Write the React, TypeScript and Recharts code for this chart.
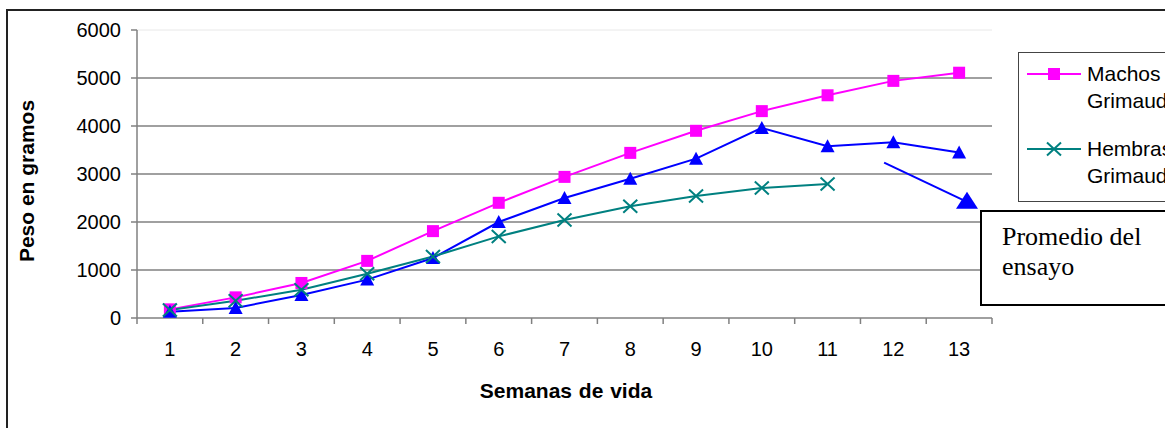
import { LineChart, Line, XAxis, YAxis, ReferenceLine, ReferenceDot } from 'recharts'

// Peso vivo por semana (g)
const WEEKS = [1, 2, 3, 4, 5, 6, 7, 8, 9, 10, 11, 12, 13]
const MACHOS = [180, 430, 730, 1190, 1810, 2400, 2940, 3440, 3900, 4310, 4640, 4940, 5110]
const PROMEDIO = [130, 210, 480, 800, 1250, 2000, 2500, 2900, 3320, 3960, 3580, 3660, 3450]
const HEMBRAS: (number | null)[] = [165, 360, 590, 920, 1280, 1700, 2040, 2330, 2540, 2710, 2790, null, null]

const Y_TICKS = [0, 1000, 2000, 3000, 4000, 5000, 6000]
const GRID_DARK = [1000, 2000, 3000, 4000, 5000]
// ticks del eje X: enteros = etiqueta, medios = marca entre semanas
const X_TICKS = [0.5, ...WEEKS.flatMap((w) => [w, w + 0.5])]

// flecha "Promedio del ensayo" (en coordenadas de datos)
const ARROW = [
  { x: 11.86, y: 3235 },
  { x: 13.12, y: 2420 },
]

const PINK = '#ff00ff'
const BLUE = '#0000ff'
const TEAL = '#008080'
const GRAY = '#808080'
const FONT = '"Liberation Sans", Arial, sans-serif'

const data = WEEKS.map((week, i) => ({
  week,
  machos: MACHOS[i],
  promedio: PROMEDIO[i],
  hembras: HEMBRAS[i],
}))

const Square = (p: any) =>
  p.cy == null ? <g key={p.index} /> : (
    <rect key={p.index} x={p.cx - 6} y={p.cy - 6} width={12} height={12} fill={PINK} />
  )

const Tri = (p: any) =>
  p.cy == null ? <g key={p.index} /> : (
    <polygon
      key={p.index}
      points={`${p.cx},${p.cy - 7} ${p.cx - 7},${p.cy + 6} ${p.cx + 7},${p.cy + 6}`}
      fill={BLUE}
    />
  )

const Cross = (p: any) =>
  p.cy == null ? <g key={p.index} /> : (
    <path
      key={p.index}
      d={`M${p.cx - 7},${p.cy - 6.5}L${p.cx + 7},${p.cy + 6.5}M${p.cx - 7},${p.cy + 6.5}L${p.cx + 7},${p.cy - 6.5}`}
      stroke={TEAL}
      strokeWidth={2}
    />
  )

const XTick = (p: any) => {
  const v = p.payload.value
  if (v % 1 !== 0) {
    return <line x1={p.x} x2={p.x} y1={p.y} y2={p.y + 6} stroke={GRAY} strokeWidth={1.5} />
  }
  return (
    <text x={p.x} y={p.y + 38} textAnchor="middle" fontSize={20} fontFamily={FONT} fill="#000">
      {v}
    </text>
  )
}

const BigTri = (p: any) => (
  <polygon
    points={`${p.cx},${p.cy - 10} ${p.cx - 11},${p.cy + 7} ${p.cx + 11},${p.cy + 7}`}
    fill={BLUE}
  />
)

export default function App() {
  return (
    <div style={{ position: 'fixed', inset: 0, overflow: 'hidden', background: '#fff', fontFamily: FONT }}>
      <div
        style={{
          position: 'absolute',
          left: 6,
          top: 9,
          width: 1300,
          height: 600,
          border: '2px solid #222',
        }}
      />
      <div style={{ position: 'absolute', left: 0, top: 0 }}>
        <LineChart width={1165} height={428} data={data} margin={{ top: 30, right: 173, left: 0, bottom: 0 }}>
          {GRID_DARK.map((v) => (
            <ReferenceLine key={v} y={v} stroke={GRAY} strokeWidth={1.5} ifOverflow="extendDomain" />
          ))}
          <ReferenceLine y={6000} stroke="#e8e8e8" strokeWidth={1} />
          <XAxis
            dataKey="week"
            type="number"
            domain={[0.5, 13.5]}
            ticks={X_TICKS}
            interval={0}
            height={110}
            tickSize={0}
            tickMargin={0}
            tickLine={false}
            axisLine={{ stroke: GRAY, strokeWidth: 1.5 }}
            tick={<XTick />}
          />
          <YAxis
            domain={[0, 6000]}
            ticks={Y_TICKS}
            interval={0}
            width={137}
            tickSize={6}
            tickMargin={10}
            tickLine={{ stroke: GRAY, strokeWidth: 1.5 }}
            axisLine={{ stroke: GRAY, strokeWidth: 1.5 }}
            tick={{ fontSize: 20, fill: '#000', fontFamily: FONT }}
          />
          <Line
            dataKey="machos"
            name="Machos Grimaud"
            stroke={PINK}
            strokeWidth={2}
            dot={Square}
            activeDot={false}
            isAnimationActive={false}
          />
          <Line
            dataKey="promedio"
            name="Promedio del ensayo"
            stroke={BLUE}
            strokeWidth={2}
            dot={Tri}
            activeDot={false}
            isAnimationActive={false}
          />
          <Line
            dataKey="hembras"
            name="Hembras Grimaud"
            stroke={TEAL}
            strokeWidth={2}
            dot={Cross}
            activeDot={false}
            connectNulls={false}
            isAnimationActive={false}
          />
          <ReferenceLine
            segment={ARROW}
            stroke={BLUE}
            strokeWidth={2}
            ifOverflow="visible"
          />
          <ReferenceDot x={ARROW[1].x} y={ARROW[1].y} ifOverflow="visible" shape={BigTri} />
        </LineChart>
      </div>

      {/* títulos de ejes */}
      <div
        style={{
          position: 'absolute',
          left: 27,
          top: 181,
          transform: 'translate(-50%, -50%) rotate(-90deg)',
          fontSize: 21,
          fontWeight: 'bold',
          whiteSpace: 'nowrap',
        }}
      >
        Peso en gramos
      </div>
      <div
        style={{
          position: 'absolute',
          left: 566,
          top: 391,
          transform: 'translate(-50%, -50%)',
          fontSize: 21,
          fontWeight: 'bold',
          whiteSpace: 'nowrap',
          wordSpacing: 1,
        }}
      >
        Semanas de vida
      </div>

      {/* leyenda */}
      <div
        style={{
          position: 'absolute',
          left: 1018,
          top: 52,
          width: 300,
          height: 148,
          border: '1px solid #444',
          background: '#fff',
        }}
      >
        {[
          { color: PINK, marker: 'square', lines: ['Machos', 'Grimaud'], top: 7 },
          { color: TEAL, marker: 'x', lines: ['Hembras', 'Grimaud'], top: 82 },
        ].map((it) => (
          <div key={it.lines[0]} style={{ position: 'absolute', left: 7, top: it.top, display: 'flex' }}>
            <svg width={56} height={27} style={{ display: 'block', marginTop: 1 }}>
              <line x1={1} x2={55} y1={13} y2={13} stroke={it.color} strokeWidth={2} />
              {it.marker === 'square' ? (
                <rect x={22} y={7} width={12} height={12} fill={it.color} />
              ) : (
                <path d="M21,6.5L35,19.5M21,19.5L35,6.5" stroke={it.color} strokeWidth={2} />
              )}
            </svg>
            <div style={{ marginLeft: 5, fontSize: 21, lineHeight: '27px' }}>
              {it.lines[0]}
              <br />
              {it.lines[1]}
            </div>
          </div>
        ))}
      </div>

      {/* caja de texto */}
      <div
        style={{
          position: 'absolute',
          left: 980,
          top: 210,
          width: 300,
          height: 96,
          border: '2px solid #000',
          background: '#fff',
          fontFamily: '"Liberation Serif", "Times New Roman", serif',
          fontSize: 26,
          lineHeight: '30px',
          padding: '10px 0 0 20px',
          boxSizing: 'border-box',
        }}
      >
        Promedio del
        <br />
        ensayo
      </div>
    </div>
  )
}
